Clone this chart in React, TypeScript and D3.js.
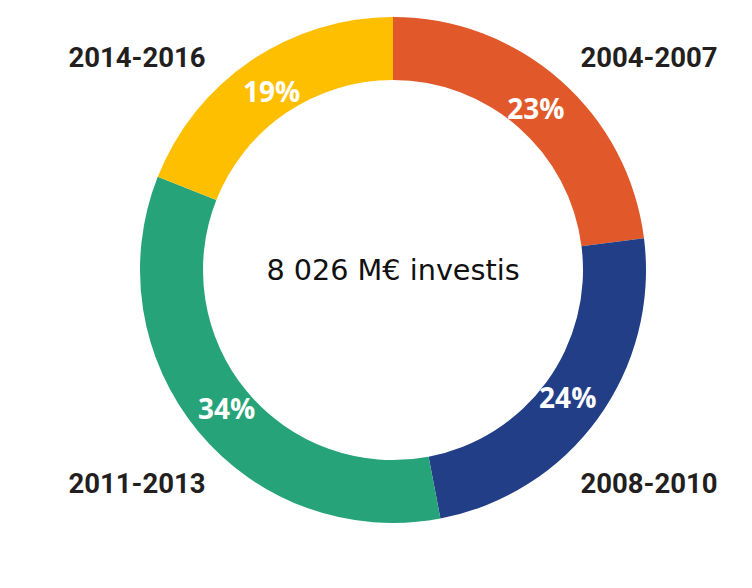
import React from "react";
import * as d3 from "d3";

const categories = ["2004-2007", "2008-2010", "2011-2013", "2014-2016"];
const values = [23, 24, 34, 19];
const colors = ["#E1592A", "#223E87", "#26A378", "#FDBF00"];
const centerLabel = "8 026 M€ investis";

const W = 752;
const H = 588;
const cx = 393;
const cy = 270;
const outerR = 253;
const innerR = 190;

export default function App() {
  const pie = d3.pie<number>().sort(null).value((d) => d)(values);
  const arc = d3.arc<d3.PieArcDatum<number>>().innerRadius(innerR).outerRadius(outerR);
  const labelArc = d3.arc<d3.PieArcDatum<number>>().innerRadius(216).outerRadius(216);

  return (
    <svg width={W} height={H} style={{ position: "absolute", left: 0, top: 0 }}>
      <rect width={W} height={H} fill="#fff" />
      <g transform={`translate(${cx},${cy})`}>
        {pie.map((p, i) => (
          <path key={i} d={arc(p) || ""} fill={colors[i]} />
        ))}
        {pie.map((p, i) => {
          const [x, y] = labelArc.centroid(p);
          return (
            <text
              key={"p" + i}
              x={x}
              y={y}
              textAnchor="middle"
              dominantBaseline="central"
              fill="#fff"
              fontFamily="'Open Sans', sans-serif"
              fontWeight={700}
              fontSize={28}
            >
              {values[i]}%
            </text>
          );
        })}
        {pie.map((p, i) => {
          const mid = (p.startAngle + p.endAngle) / 2;
          const sx = Math.sin(mid) >= 0 ? 1 : -1;
          const sy = -Math.cos(mid) >= 0 ? 1 : -1;
          return (
            <text
              key={"c" + i}
              x={sx * 256}
              y={sy * 213}
              textAnchor="middle"
              dominantBaseline="central"
              fill="#231F20"
              fontFamily="Roboto, sans-serif"
              fontWeight={700}
              fontSize={27.5}
            >
              {categories[i]}
            </text>
          );
        })}
        <text
          x={0}
          y={0}
          textAnchor="middle"
          dominantBaseline="central"
          fill="#111"
          fontFamily="'DejaVu Sans', sans-serif"
          fontSize={28.7}
        >
          {centerLabel}
        </text>
      </g>
    </svg>
  );
}
